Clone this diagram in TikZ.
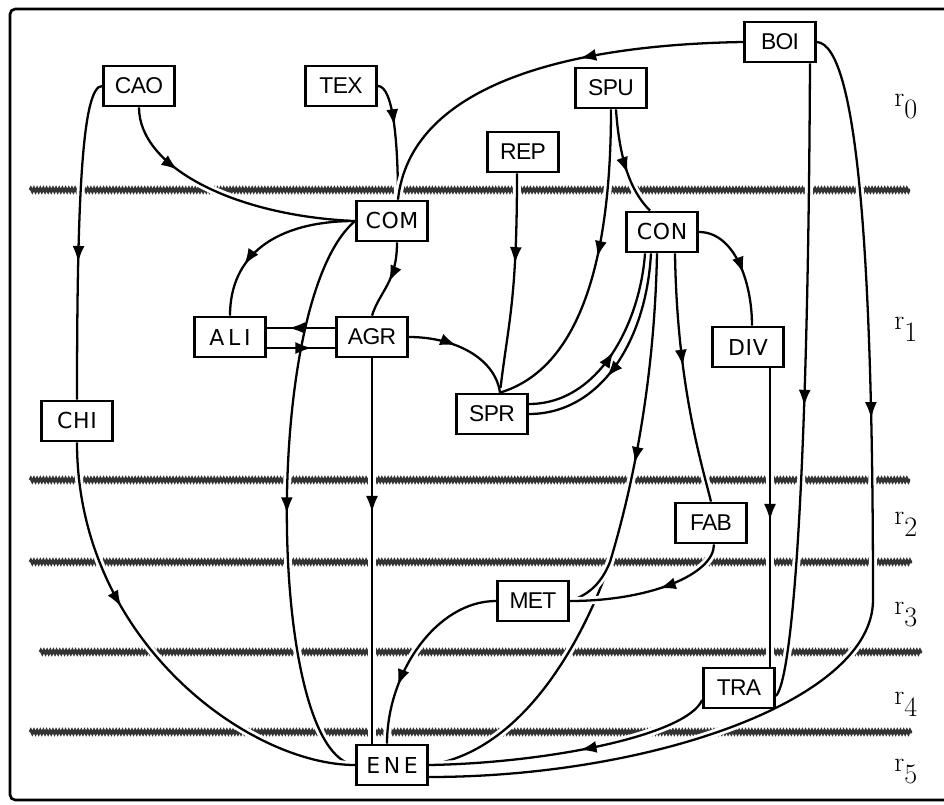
\documentclass[tikz,border=0pt]{standalone}
\usepackage{fontspec}
\newfontfamily\narrowfont[LetterSpace=-3]{Liberation Sans}
\newfontfamily\widefont[LetterSpace=3]{DejaVu Sans}
\usetikzlibrary{arrows.meta,decorations.markings,decorations.pathmorphing}

\pgfdeclarelayer{front}
\pgfsetlayers{main,front}

\tikzset{
  sector/.style={draw, line width=1.6pt, fill=white, minimum width=1.42cm, minimum height=0.8cm, inner sep=1pt},
  tight/.style={sector, font=\narrowfont\fontsize{13}{15}\selectfont},
  wide/.style={sector, font=\widefont\fontsize{12.5}{15}\selectfont},
  rankline/.style={black!80, line width=1.6pt, decorate, decoration={zigzag, segment length=1.8pt, amplitude=0.9pt}},
  link/.style={line width=1.3pt},
  cut/.style={link, preaction={draw=white, line width=4.5pt}},
  arr/.style={postaction={decoration={markings, mark=at position #1 with {\arrow{Latex[length=3.3mm,width=2.4mm]}}}, decorate}},
  arr/.default=0.5,
  rank/.style={anchor=base west, inner sep=0pt, font=\fontsize{16}{18}\selectfont}
}

\begin{document}
\begin{tikzpicture}[x=0.02cm, y=-0.02cm]
	\useasboundingbox (0,0) rectangle (944,805);
	\draw [line width=1.5pt, rounded corners=3pt] (960,9) -- (10,9) -- (10,800) -- (960,800);
	% rank boundaries
	\foreach \y/\a/\b in {190/30/910, 480/30/910, 562/30/912, 652/40/922, 732/30/912}
		\draw [rankline] (\a,\y) -- (\b,\y);
	\foreach \i/\y in {0/106, 1/329, 2/524, 3/614, 4/704, 5/771}
		\node [rank] (r\i) at (894,\y) {r\raisebox{-7pt}{\i}};

	\begin{pgfonlayer}{front}
	\node [tight] (CAO) at (139,86) {CAO};
	\node [tight] (TEX) at (341,86) {TEX};
	\node [tight] (BOI) at (780,42) {BOI};
	\node [tight] (SPU) at (611,88) {SPU};
	\node [tight] (REP) at (523,152) {REP};
	\node [wide] (COM) at (392,221) {COM};
	\node [wide] (CON) at (662,232) {CON};
	\node [wide] (ALI) at (230,337) {A\,L\,I};
	\node [tight] (AGR) at (372,337) {AGR};
	\node [wide] (CHI) at (77,421) {CHI};
	\node [tight] (SPR) at (492,414) {SPR};
	\node [wide] (DIV) at (748,347) {DIV};
	\node [tight] (FAB) at (711,523) {FAB};
	\node [tight] (MET) at (533,601) {MET};
	\node [tight] (TRA) at (739,688) {TRA};
	\node [wide] (ENE) at (392,765) {E\,N\,E};
	\end{pgfonlayer}

	\coordinate (COMin) at ([xshift=0.12cm]COM.north);
	\coordinate (SPRin) at ([xshift=0.16cm]SPR.north);
	\coordinate (CONout) at ([xshift=-0.1cm]CON.south);
	\coordinate (CONsplit) at (610,562);
	\coordinate (BOIturn) at (873,600);

	% from r0
	\draw [cut, arr=0.57] (CAO.west) .. controls +(-20,0) and +(0,-200) .. (CHI.north);
	\draw [cut, arr=0.29] (CAO.south) .. controls +(0,60) and +(-120,-5) .. (COM.west);
	\draw [cut, arr=0.38] (TEX.east) .. controls +(15,0) and +(0,-60) .. (COMin);
	\draw [cut, arr=0.4] (BOI.west) .. controls +(-185,3) and +(12,-111) .. (COMin);
	\draw [cut, arr=0.41] ([xshift=-0.12cm]REP.south) .. controls +(0,130) and +(8,-70) .. (SPRin);
	\draw [cut, arr=0.46] (SPU.south) .. controls +(0,150) and +(80,-24) .. (SPRin);
	\draw [cut, arr=0.6] ([xshift=0.1cm]SPU.south) .. controls +(4,60) and +(-15,-15) .. ([xshift=-0.24cm]CON.north);
	\draw [cut, arr=0.54] ([xshift=0.6cm]BOI.south) .. controls +(-2,430) and +(16,-16) .. ([yshift=-0.16cm]TRA.east);
	\draw [cut, arr=0.36] (BOI.east) .. controls +(40,3) and +(0,-350) .. (BOIturn)
		.. controls +(0,100) and +(222,0) .. ([yshift=-0.24cm]ENE.east);
	% from r1
	\draw [cut, arr=0.53] (COM.west) .. controls +(-94,79) and +(-88,-10) .. (ENE.west);
	\draw [link, arr=0.7] (COM.west) .. controls +(-80,0) and +(0,-60) .. (ALI.north);
	\draw [link, arr=0.52] ([xshift=0.1cm]COM.south) .. controls +(0,40) and +(8,-25) .. (AGR.north);
	\draw [link, arr=0.68] ([yshift=0.18cm]AGR.west) -- ([yshift=0.18cm]ALI.east);
	\draw [link, arr=0.66] ([yshift=-0.22cm]ALI.east) -- ([yshift=-0.22cm]AGR.west);
	\draw [link, arr=0.42] (AGR.east) .. controls +(45,0) and +(-5,-35) .. (SPRin);
	\draw [cut, arr=0.4] (AGR.south) -- (AGR.south |- ENE.north);
	\draw [cut, arr=0.37] (CHI.south) .. controls +(0,198) and +(-106,0) .. (ENE.west);
	\draw [cut, arr=0.55] (CON.east) .. controls +(35,0) and +(0,-45) .. ([xshift=0.08cm]DIV.north);
	\draw [cut, arr=0.45] ([xshift=0.26cm]CON.south) .. controls +(2,130) and +(-10,-40) .. (FAB.north);
	\draw [cut] (CONout) .. controls +(-3,150) and +(15,-50) .. (CONsplit)
		.. controls +(-20,60) and +(102,-15) .. (ENE.east);
	\draw [cut, arr=0.57] (CONout) .. controls +(-3,150) and +(15,-50) .. (CONsplit)
		.. controls +(-10,25) and +(15,-5) .. (MET.east);
	\draw [link, arr=0.5] ([yshift=0.2cm]SPR.east) .. controls +(70,0) and +(-5,70) .. ([xshift=-0.34cm]CON.south);
	\draw [link, arr=0.6] ([xshift=-0.22cm]CON.south) .. controls +(-5,90) and +(70,0) .. (SPR.east);
	\draw [cut, arr=0.51] ([xshift=0.44cm]DIV.south) -- ([xshift=0.44cm]DIV.south |- TRA.north);
	% from r2 and below
	\draw [cut, arr=0.45] ([xshift=0.06cm]FAB.south) .. controls +(0,30) and +(80,0) .. (MET.east);
	\draw [cut, arr=0.7] (MET.west) .. controls +(-60,0) and +(0,-70) .. ([xshift=-0.1cm]ENE.north);
	\draw [cut, arr=0.47] ([yshift=-0.24cm]TRA.west) .. controls +(-15,35) and +(120,-2) .. (ENE.east);
\end{tikzpicture}
\end{document}
